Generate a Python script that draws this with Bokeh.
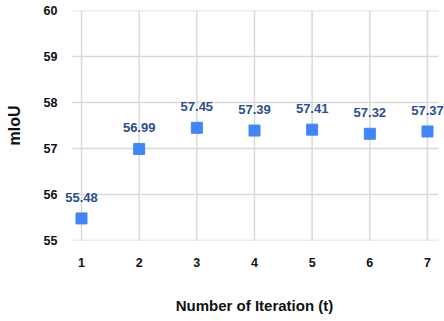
from bokeh.plotting import figure
from bokeh.models import ColumnDataSource, FixedTicker, Range1d
from bokeh.core.properties import value
from bokeh.embed import file_html
from bokeh.resources import INLINE

iterations = [1, 2, 3, 4, 5, 6, 7]
miou = [55.48, 56.99, 57.45, 57.39, 57.41, 57.32, 57.37]
labels = ["55.48", "56.99", "57.45", "57.39", "57.41", "57.32", "57.37"]
y_ticks = [55, 56, 57, 58, 59, 60]

src = ColumnDataSource(dict(x=iterations, y=miou, lab=labels))

# frame extends sideways beyond the grid area so that value labels are not clipped
p = figure(width=444, height=321, output_backend="svg", toolbar_location=None,
           x_range=Range1d(0.705, 7.295), y_range=Range1d(55, 60),
           min_border_left=64, min_border_right=0, min_border_top=10, min_border_bottom=81)
p.outline_line_color = None
p.background_fill_color = "white"
p.xgrid.visible = False
p.ygrid.visible = False

FONT = "Liberation Sans"
for ax in (p.xaxis[0], p.yaxis[0]):
    ax.axis_line_color = None
    ax.major_tick_line_color = None
    ax.minor_tick_line_color = None
    ax.major_label_text_font = FONT
    ax.major_label_text_font_style = "bold"
    ax.major_label_text_font_size = "12.5px"
    ax.major_label_text_color = "#111111"
    ax.axis_label_text_font = FONT
    ax.axis_label_text_font_style = "bold"
    ax.axis_label_text_color = "#111111"

p.xaxis.ticker = FixedTicker(ticks=iterations)
p.yaxis.ticker = FixedTicker(ticks=y_ticks)
p.xaxis.axis_label = "Number of Iteration (t)"
p.yaxis.axis_label = "mIoU"
p.xaxis.axis_label_text_font_size = "15px"
p.yaxis.axis_label_text_font_size = "16px"
p.xaxis.major_label_standoff = 11
p.yaxis.major_label_standoff = 1
p.xaxis.axis_label_standoff = 27
p.yaxis.axis_label_standoff = 18

# grid lines drawn over the plotting area only
GRID_X0, GRID_X1 = 0.844, 7.19
grid_color = "#d9d9d9"
p.segment(x0=[GRID_X0] * len(y_ticks), y0=y_ticks, x1=[GRID_X1] * len(y_ticks), y1=y_ticks,
          line_color=grid_color, line_width=1.5)
p.segment(x0=iterations, y0=[y_ticks[0]] * len(iterations), x1=iterations,
          y1=[y_ticks[-1]] * len(iterations), line_color=grid_color, line_width=1.5)

p.scatter("x", "y", source=src, marker="square", size=11, fill_color="#4285f4", line_color="#4285f4")
p.text("x", "y", text="lab", source=src, y_offset=-21, text_align="center", text_baseline="middle",
       text_font=value(FONT), text_font_style="bold", text_font_size="13px", text_color="#2c4f8e")

open("out.html", "w").write(file_html(p, INLINE))
